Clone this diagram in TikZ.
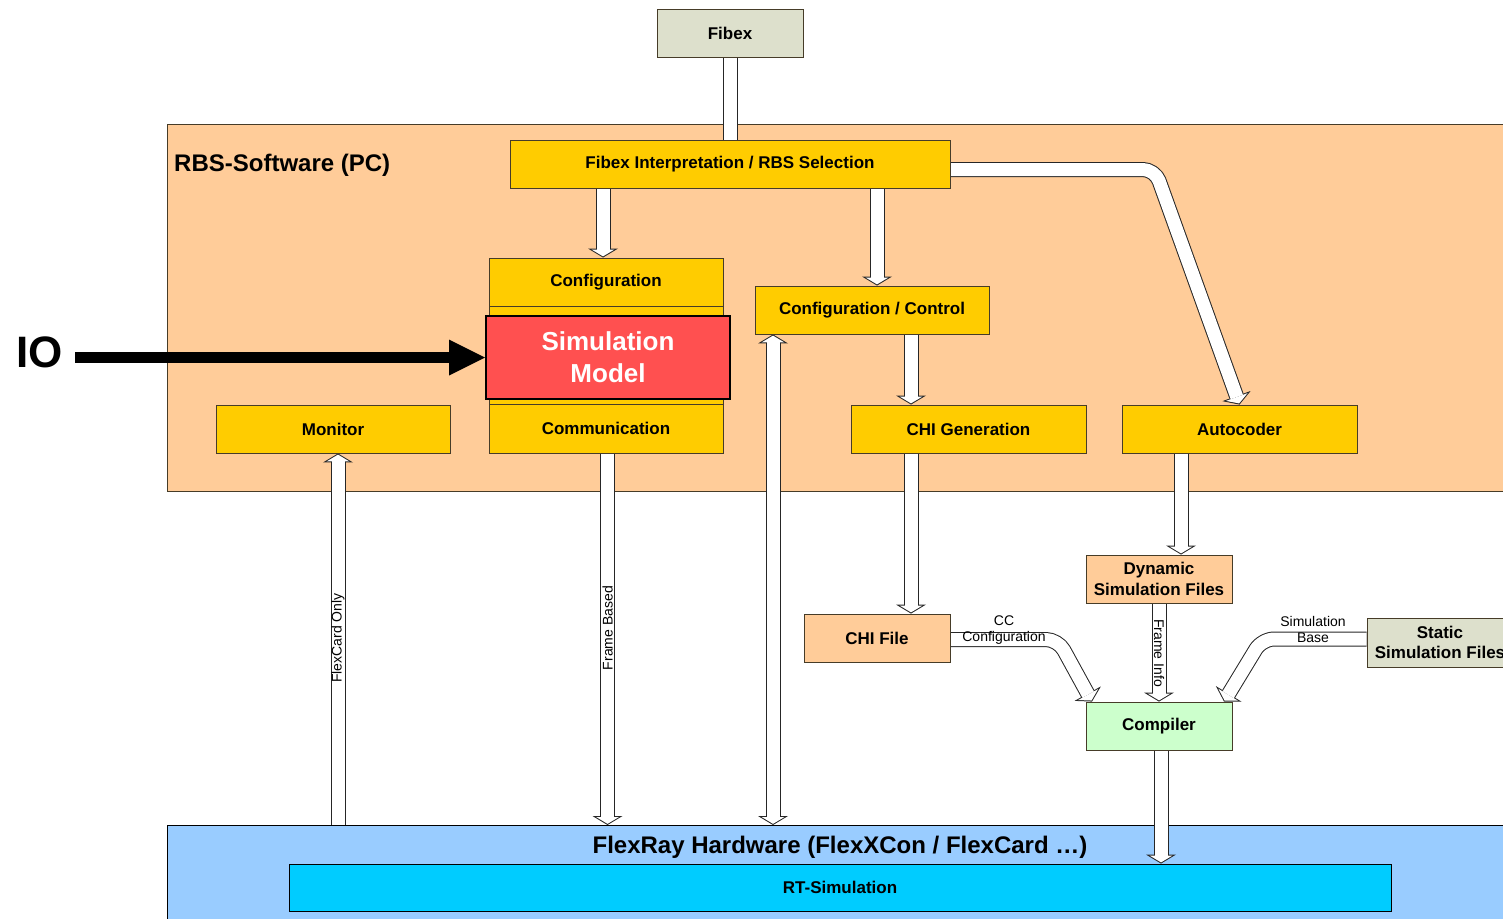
\documentclass[tikz,border=0pt]{standalone}
\usepackage{fontspec}
\setmainfont{Liberation Sans}
\usetikzlibrary{arrows.meta,calc}
\definecolor{gold}{HTML}{FFCC00}
\definecolor{peach}{HTML}{FFCC99}
\definecolor{simred}{HTML}{FF5050}
\definecolor{compgreen}{HTML}{CCFFCC}
\definecolor{khaki}{RGB}{221,224,204}
\definecolor{hwblue}{HTML}{99CCFF}
\definecolor{rtblue}{HTML}{00CCFF}
\definecolor{edge}{RGB}{70,60,40}
\pgfdeclarelayer{arrowlayer}
\pgfdeclarelayer{front}
\pgfsetlayers{main,arrowlayer,front}
\tikzset{
  area/.style={draw=edge, line width=0.9pt, inner sep=0pt},
  box/.style={draw=edge, line width=0.9pt, inner sep=0pt, align=center,
    font=\fontsize{17}{21}\selectfont\bfseries},
  ybox/.style={box, fill=gold, minimum width=234pt, minimum height=48pt},
  sbox/.style={box, minimum width=146pt, minimum height=48pt},
  lbl/.style={inner sep=0pt, font=\fontsize{14}{16}\selectfont},
  ha out/.style={line width=15pt, draw=black!85, line join=round},
  ha in/.style={line width=13pt, draw=white, line join=round},
  hto out/.style={ha out, -{Triangle[width=30pt,length=9pt,line width=0pt 0 0]}},
  hto in/.style={ha in, -{Triangle[width=22.8pt,length=6.83pt,line width=0pt 0 0]}, shorten >=1.17pt},
  hboth out/.style={ha out, {Triangle[width=30pt,length=9pt,line width=0pt 0 0]}-{Triangle[width=30pt,length=9pt,line width=0pt 0 0]}},
  hboth in/.style={ha in, {Triangle[width=22.8pt,length=6.83pt,line width=0pt 0 0]}-{Triangle[width=22.8pt,length=6.83pt,line width=0pt 0 0]}, shorten >=1.17pt, shorten <=1.17pt},
  hnone out/.style={ha out},
  hnone in/.style={ha in},
  ioarrow/.style={line width=11pt, draw=black, -{Triangle[width=36pt,length=36pt,line width=0pt 0 0]}},
}
\newcommand\hollow[3][]{%
  \draw[h#2 out,#1] #3;
  \draw[h#2 in,#1] #3;}
\begin{document}
\begin{tikzpicture}[x=1pt,y=-1pt]
\useasboundingbox (0,0) rectangle (1503,918);
% background areas
\node[area, fill=peach, minimum width=1360pt, minimum height=367pt, anchor=north west] (rbs) at (167,124) {};
\node[area, draw=black, fill=hwblue, minimum width=1360pt, minimum height=110pt, anchor=north west] (hw) at (167,825) {};

\begin{pgfonlayer}{front}
\node[sbox, fill=khaki] (fibex) at (730,33) {Fibex};
\node[inner sep=0pt, anchor=west, font=\fontsize{24}{28}\selectfont\bfseries] (rbst) at (174,165) {RBS-Software (PC)};
\node[ybox, minimum width=440pt] (fi) at (730,164) {Fibex Interpretation / RBS Selection};
\node[box, fill=gold, minimum width=234pt, minimum height=195pt, anchor=north west] (stack) at (489,258) {};
\node[ybox] (cfg) at (606,282) {Configuration};
\node[ybox, minimum height=49pt] (comm) at (606,428.5) {Communication};
\node[box, fill=simred, draw=black, line width=2pt, text=white, minimum width=244pt, minimum height=83pt,
  font=\fontsize{26}{32}\selectfont\bfseries] (sim) at (608,357.5) {Simulation\\Model};
\node[ybox] (mon) at (333,429) {Monitor};
\node[ybox] (cc) at (872,310) {Configuration / Control};
\node[ybox, minimum width=235pt] (chig) at (968.5,429) {CHI Generation};
\node[ybox, minimum width=235pt] (auto) at (1239.5,429) {Autocoder};
\node[sbox, fill=peach] (dyn) at (1159,579) {Dynamic\\Simulation Files};
\node[sbox, fill=peach] (chif) at (877,638) {CHI File};
\node[sbox, fill=compgreen] (comp) at (1159,726) {Compiler};
\node[sbox, fill=khaki, minimum height=49pt, font=\fontsize{17}{20}\selectfont\bfseries] (stat) at (1440,642.5) {Static\\Simulation Files};
\node[inner sep=0pt, font=\fontsize{24}{28}\selectfont\bfseries] (hwt) at (840,847) {FlexRay Hardware (FlexXCon / FlexCard …)};
\node[box, draw=black, fill=rtblue, minimum width=1102pt, minimum height=47pt] (rt) at (840,887.5) {RT-Simulation};
\node[inner sep=0pt, font=\fontsize{44}{50}\selectfont\bfseries] (io) at (39.5,352.5) {IO};
% arrow labels
\node[lbl] (lcc1) at (1004,621) {CC};
\node[lbl] (lcc2) at (1004,638) {Configuration};
\node[lbl] (lsb1) at (1313,621) {Simulation};
\node[lbl] (lsb2) at (1313,638) {Base};
\node[lbl, rotate=-90] (lfi) at (1159,653) {Frame Info};
\node[lbl, rotate=90] (lfb) at (607.5,628) {Frame Based};
\node[lbl, rotate=90] (lfc) at (338,638) {FlexCard Only};
\end{pgfonlayer}

\begin{pgfonlayer}{arrowlayer}
\coordinate (a2) at ([xshift=-3pt]cfg.north);
\coordinate (a3) at ([xshift=5pt]cc.north);
\coordinate (bend1) at (1155,169.5);
\coordinate (a5) at ([xshift=-57.5pt]chig.north);
\coordinate (a6) at ([xshift=-57.5pt]chig.south);
\coordinate (a7) at ([xshift=22pt]dyn.north);
\coordinate (bend2) at (1058,639.5);
\coordinate (tip2) at ([xshift=-67pt]comp.north);
\coordinate (bend3) at (1262,639);
\coordinate (tip3) at ([xshift=65pt]comp.north);
\coordinate (a11) at ([xshift=2pt]comp.south);
\coordinate (a12) at ([xshift=1.5pt]comm.south);
\coordinate (a13) at ([xshift=5pt]mon.south);
\coordinate (a14) at ([xshift=-99pt]cc.south);
\coordinate (iostart) at (75,357.5);

\hollow{none}{(fibex.south) -- (fibex.south |- fi.north)}
\hollow{to}{(a2 |- fi.south) -- (a2)}
\hollow{to}{(a3 |- fi.south) -- (a3)}
\hollow[rounded corners=12pt]{to}{([yshift=-5.5pt]fi.east) -- (bend1) -- (auto.north)}
\hollow{to}{(a5 |- cc.south) -- (a5)}
\hollow{to}{(a6) -- (a6 |- chif.north)}
\hollow{to}{(a7 |- auto.south) -- (a7)}
\hollow{to}{(dyn.south) -- (comp.north)}
\hollow[rounded corners=12pt]{to}{([yshift=-1.5pt]chif.east) -- (bend2) -- (tip2)}
\hollow[rounded corners=12pt]{to}{([yshift=3.5pt]stat.west) -- (bend3) -- (tip3)}
\hollow{to}{(a11) -- (a11 |- rt.north)}
\hollow{to}{(a12) -- (a12 |- hw.north)}
\hollow{to}{(a13 |- hw.north) -- (a13)}
\hollow{both}{(a14) -- (a14 |- hw.north)}
\draw[ioarrow] (iostart) -- (sim.west);
\end{pgfonlayer}
\end{tikzpicture}
\end{document}
